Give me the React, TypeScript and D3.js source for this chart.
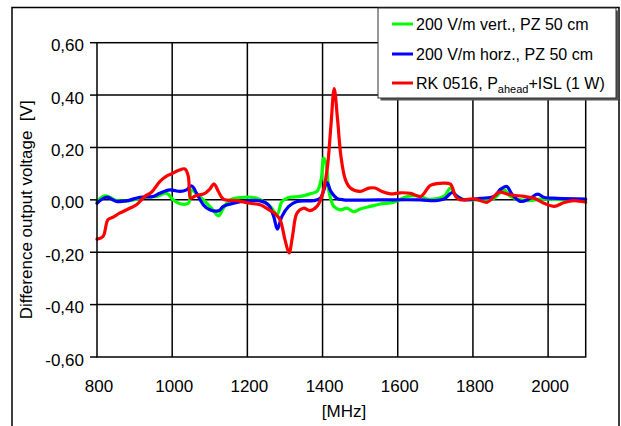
import React from 'react';
import * as d3 from 'd3';

const W = 621;
const H = 426;

const xTicks = [800, 1000, 1200, 1400, 1600, 1800, 2000];
const yTicks = [-0.6, -0.4, -0.2, 0, 0.2, 0.4, 0.6];
const xGrid = [1000, 1200, 1400, 1600, 1800, 2000];
const yGrid = [-0.4, -0.2, 0, 0.2, 0.4];

const greenFreq = [800, 821, 834, 852, 887, 923, 958, 985, 1003, 1021, 1043, 1052, 1065, 1083, 1105, 1123, 1136, 1154, 1181, 1225, 1261, 1279, 1292, 1310, 1341, 1367, 1385, 1396, 1403, 1409, 1418, 1430, 1447, 1465, 1483, 1500, 1527, 1554, 1590, 1625, 1661, 1678, 1723, 1740, 1754, 1772, 1820, 1856, 1883, 1900, 1945, 1981, 2052, 2100];
const greenVolt = [-0.004, 0.015, 0.01, -0.003, -0.003, 0.01, 0.013, 0.025, 0, -0.015, -0.013, 0.038, 0.023, 0, -0.032, -0.061, -0.032, 0, 0.009, 0.006, -0.025, -0.057, -0.006, 0.009, 0.013, 0.023, 0.032, 0.076, 0.159, 0.14, 0.025, -0.025, -0.038, -0.032, -0.045, -0.035, -0.025, -0.016, -0.009, 0.013, 0.013, 0.003, 0.013, 0.045, 0.019, 0.003, 0, 0.006, 0.038, 0.013, -0.003, 0.003, 0, 0];

const blueFreq = [800, 825, 852, 878, 914, 950, 967, 994, 1021, 1038, 1052, 1065, 1083, 1100, 1123, 1136, 1163, 1198, 1234, 1256, 1270, 1280, 1292, 1310, 1332, 1376, 1394, 1412, 1422, 1438, 1456, 1550, 1661, 1696, 1723, 1745, 1758, 1776, 1820, 1856, 1874, 1890, 1905, 1927, 1949, 1972, 1990, 2025, 2100];
const blueVolt = [-0.013, 0.01, -0.006, -0.004, 0.01, 0.013, 0.025, 0.038, 0.032, 0.038, 0.053, 0.025, -0.019, -0.038, -0.042, -0.025, -0.013, -0.004, -0.004, -0.019, -0.063, -0.112, -0.063, -0.025, -0.006, -0.003, 0.006, 0.066, 0.032, 0.006, 0, 0, 0, -0.003, 0.003, 0.028, 0.013, 0, 0.006, 0.013, 0.041, 0.051, 0.019, -0.006, 0.003, 0.022, 0.009, 0.006, 0.003];

const redFreq = [800, 816, 829, 843, 860, 887, 905, 927, 945, 967, 985, 998, 1016, 1034, 1043, 1049, 1061, 1087, 1100, 1111, 1123, 1136, 1172, 1207, 1234, 1261, 1274, 1287, 1300, 1311, 1320, 1332, 1349, 1367, 1385, 1398, 1412, 1422, 1431, 1440, 1449, 1461, 1474, 1500, 1523, 1540, 1558, 1581, 1607, 1634, 1661, 1687, 1714, 1740, 1754, 1767, 1803, 1838, 1856, 1869, 1900, 1936, 1963, 1989, 2016, 2043, 2069, 2100];
const redVolt = [-0.15, -0.14, -0.076, -0.066, -0.051, -0.032, -0.019, 0.013, 0.029, 0.07, 0.091, 0.099, 0.112, 0.118, 0.089, 0.006, 0.015, 0.025, 0.041, 0.061, 0.032, 0.003, -0.003, -0.013, -0.019, -0.041, -0.053, -0.076, -0.152, -0.203, -0.14, -0.051, -0.032, -0.041, -0.025, 0.013, 0.114, 0.279, 0.425, 0.305, 0.165, 0.076, 0.045, 0.032, 0.045, 0.045, 0.032, 0.023, 0.027, 0.025, 0.013, 0.055, 0.063, 0.06, 0.013, 0, 0.004, -0.009, 0.013, 0.029, 0.019, 0.013, 0.006, -0.013, -0.025, -0.01, -0.003, -0.009];

const seriesNames = ['200 V/m vert., PZ 50 cm', '200 V/m horz., PZ 50 cm', 'RK 0516, P'];
const seriesColors = ['#00ff00', '#0000ff', '#ff0000'];

const FONT = '"Liberation Sans", Arial, sans-serif';

export default function App() {
  const x = d3.scaleLinear().domain([800, 2100]).range([97, 585.7]);
  const y = d3.scaleLinear().domain([-0.6, 0.6]).range([357, 42.7]);
  const line = d3
    .line<[number, number]>()
    .x((d) => x(d[0]))
    .y((d) => y(d[1]))
    .curve(d3.curveCatmullRom.alpha(0.5));

  const series = [
    greenFreq.map((f, i) => [f, greenVolt[i]] as [number, number]),
    blueFreq.map((f, i) => [f, blueVolt[i]] as [number, number]),
    redFreq.map((f, i) => [f, redVolt[i]] as [number, number]),
  ];

  const fmt = (v: number) => (Math.abs(v) < 1e-9 ? 0 : v).toFixed(2).replace('.', ',');
  const [x0, x1] = x.range();
  const [yb, yt] = y.range();

  const legX = 378;
  const legY = 8;
  const rowY = [24, 54, 83];

  return (
    <svg
      width={W}
      height={H}
      style={{ position: 'absolute', left: 0, top: 0, background: '#fff' }}
      fontFamily={FONT}
    >
      <rect x={0} y={0} width={W} height={H} fill="#fff" />
      {/* outer frame */}
      <path d={`M12,${H + 2} V7.5 H619 V${H + 2}`} fill="none" stroke="#000" strokeWidth={1.5} />

      {/* grid */}
      {xGrid.map((t) => (
        <line key={'gx' + t} x1={x(t)} x2={x(t)} y1={yt} y2={yb} stroke="#000" strokeWidth={1.5} />
      ))}
      {yGrid.map((t) => (
        <line key={'gy' + t} x1={x0} x2={x1} y1={y(t)} y2={y(t)} stroke="#000" strokeWidth={1.5} />
      ))}

      {/* series */}
      {series.map((s, i) => (
        <path
          key={'s' + i}
          d={line(s) || ''}
          fill="none"
          stroke={seriesColors[i]}
          strokeWidth={3.2}
          strokeLinejoin="round"
          strokeLinecap="round"
        />
      ))}

      {/* plot border */}
      <rect x={x0} y={yt} width={x1 - x0} height={yb - yt} fill="none" stroke="#000" strokeWidth={1.5} />

      {/* y ticks */}
      {yTicks.map((t) => (
        <g key={'yt' + t}>
          <line x1={x0 - 7} x2={x0} y1={y(t)} y2={y(t)} stroke="#000" strokeWidth={1.5} />
          <text x={84} y={y(t)} dy="0.5em" textAnchor="end" fontSize={17}>
            {fmt(t)}
          </text>
        </g>
      ))}

      {/* x ticks */}
      {xTicks.map((t) => (
        <text key={'xt' + t} x={x(t) + 2} y={392} textAnchor="middle" fontSize={17}>
          {t}
        </text>
      ))}

      <text x={344} y={417} textAnchor="middle" fontSize={17}>
        [MHz]
      </text>
      <text
        transform={`translate(32,${(yt + yb) / 2 + 10}) rotate(-90)`}
        textAnchor="middle"
        fontSize={17}
        style={{ whiteSpace: 'pre' }}
      >
        {'Difference output voltage  [V]'}
      </text>

      {/* legend */}
      <rect x={legX + 2.5} y={legY + 2.5} width={238} height={90} fill="#555" />
      <rect x={legX} y={legY} width={238} height={90} fill="#fff" stroke="#333" strokeWidth={1} />
      {seriesNames.map((n, i) => (
        <g key={'lg' + i}>
          <line x1={392} x2={413} y1={rowY[i]} y2={rowY[i]} stroke={seriesColors[i]} strokeWidth={3} />
          <text x={416} y={rowY[i]} dy="0.36em" fontSize={16}>
            {n}
            {i === 2 && (
              <>
                <tspan fontSize={11} dy={4}>
                  ahead
                </tspan>
                <tspan dy={-4}>+ISL (1 W)</tspan>
              </>
            )}
          </text>
        </g>
      ))}
    </svg>
  );
}
